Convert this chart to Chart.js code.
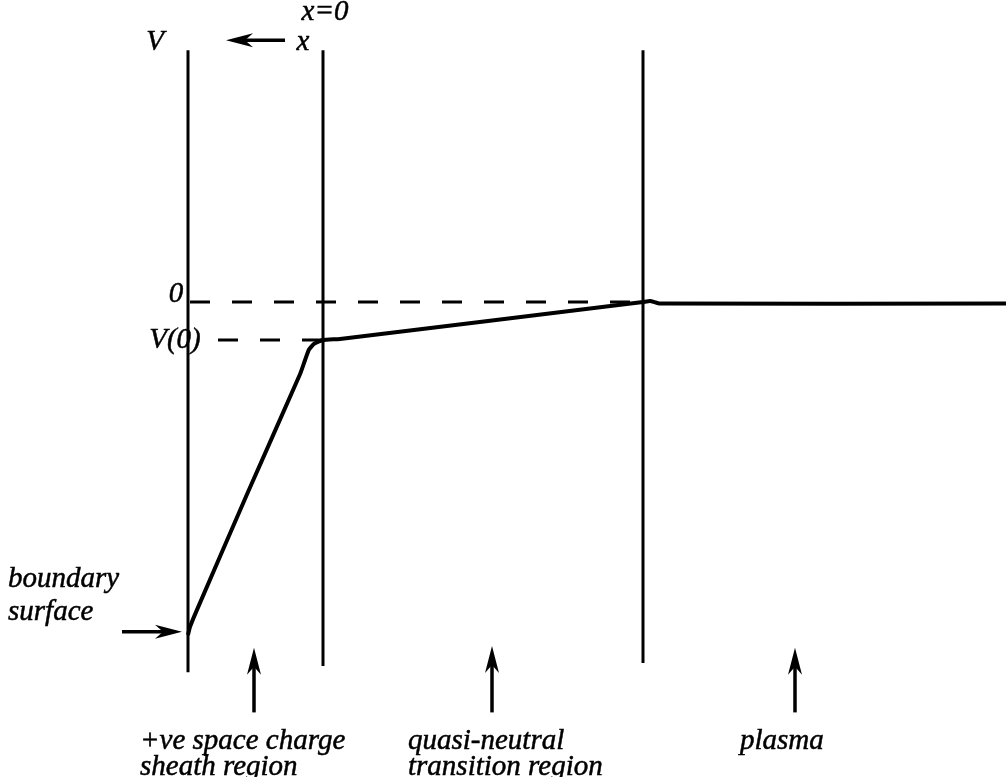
<!DOCTYPE html>
<html lang="en">
<head>
<meta charset="UTF-8">
<title>Sheath potential</title>
<script src="https://cdn.jsdelivr.net/npm/chart.js@4.4.4/dist/chart.umd.min.js"></script>
<style>
  html, body { margin: 0; padding: 0; background: #fff; }
  #wrap { width: 1006px; height: 777px; position: relative; }
</style>
</head>
<body>
<div id="wrap"><canvas id="chart"></canvas></div>
<script>
// s = distance from the wall (arbitrary units), V = potential (V(0) = -1)
const WALL = 0;
const SHEATH_EDGE = 135;
const PRESHEATH_EDGE = 455;

// potential profile V(s)
const profileS = [0, 2, 8, 60, 112, 117, 121, 126, 135, 152, 300, 455, 462, 472, 818];
const profileV = [-8.76, -8.55, -8.16, -5.0, -1.9, -1.53, -1.25, -1.1, -1.0, -0.97, -0.5, 0, 0.03, -0.04, -0.04];

// vertical region boundaries: [position, top V, bottom V]
const boundaryS = [WALL, SHEATH_EDGE, PRESHEATH_EDGE];
const boundaryTop = [6.63, 6.63, 6.63];
const boundaryBottom = [-9.74, -9.58, -9.5];

// dashed reference levels: V=0 and V(0)
const refLevels = [0, -1];
const refStart = [2, 30];
const refEnd = [PRESHEATH_EDGE, SHEATH_EDGE];

// text labels placed in data coordinates
const labels = [
  { text: 'V', s: -33, v: 6.84, align: 'center' },
  { text: 'x=0', s: 137, v: 7.63, align: 'center' },
  { text: 'x', s: 115, v: 6.84, align: 'center' },
  { text: '0', s: -12, v: 0.2, align: 'center' },
  { text: 'V(0)', s: -13, v: -1.0, align: 'center' },
  { text: 'boundary', s: -180, v: -7.3, align: 'left' },
  { text: 'surface', s: -180, v: -8.16, align: 'left' },
  { text: '+ve space charge', s: -48, v: -11.55, align: 'left' },
  { text: 'sheath region', s: -48, v: -12.25, align: 'left' },
  { text: 'quasi-neutral', s: 220, v: -11.55, align: 'left' },
  { text: 'transition region', s: 220, v: -12.25, align: 'left' },
  { text: 'plasma', s: 552, v: -11.55, align: 'left' },
];

// arrows: from (s0,v0) to tip (s1,v1)
const arrows = [
  { s0: 97, v0: 6.89, s1: 38, v1: 6.89 },
  { s0: -66, v0: -8.68, s1: -6, v1: -8.68 },
  { s0: 66, v0: -10.8, s1: 66, v1: -9.1 },
  { s0: 304, v0: -10.8, s1: 304, v1: -9.05 },
  { s0: 607, v0: -10.8, s1: 607, v1: -9.1 },
];

const INK = '#000';
const LABEL_FONT = 'italic 29px "Liberation Serif"';
const datasets = [];

datasets.push({
  data: profileS.map((s, i) => ({ x: s, y: profileV[i] })),
  borderColor: INK, borderWidth: 4, tension: 0.15,
});
boundaryS.forEach((s, i) => {
  datasets.push({
    data: [{ x: s, y: boundaryTop[i] }, { x: s, y: boundaryBottom[i] }],
    borderColor: INK, borderWidth: 3,
  });
});
refLevels.forEach((v, i) => {
  datasets.push({
    data: [{ x: refStart[i], y: v }, { x: refEnd[i], y: v }],
    borderColor: INK, borderWidth: 3, borderDash: [20, 22],
  });
});

const annotate = {
  id: 'annotate',
  afterDatasetsDraw(chart) {
    const { ctx, scales: { x, y } } = chart;
    ctx.save();
    ctx.fillStyle = INK;
    ctx.strokeStyle = INK;
    ctx.font = LABEL_FONT + ', "Liberation Serif", serif';
    ctx.textBaseline = 'middle';
    ctx.lineWidth = 0.5;
    labels.forEach((l) => {
      ctx.textAlign = l.align;
      const px = x.getPixelForValue(l.s), py = y.getPixelForValue(l.v);
      ctx.fillText(l.text, px, py);
      ctx.strokeText(l.text, px, py);
    });
    arrows.forEach((a) => {
      const x0 = x.getPixelForValue(a.s0), y0 = y.getPixelForValue(a.v0);
      const x1 = x.getPixelForValue(a.s1), y1 = y.getPixelForValue(a.v1);
      const ang = Math.atan2(y1 - y0, x1 - x0);
      const cos = Math.cos(ang), sin = Math.sin(ang);
      const len = 27, half = 7, notch = 8;
      const bx = x1 - len * cos, by = y1 - len * sin;
      ctx.lineWidth = 3.5;
      ctx.beginPath();
      ctx.moveTo(x0, y0);
      ctx.lineTo(bx + notch * cos, by + notch * sin);
      ctx.stroke();
      ctx.beginPath();
      ctx.moveTo(x1, y1);
      ctx.lineTo(bx - half * sin, by + half * cos);
      ctx.lineTo(bx + notch * cos, by + notch * sin);
      ctx.lineTo(bx + half * sin, by - half * cos);
      ctx.closePath();
      ctx.fill();
    });
    ctx.restore();
  },
};

function draw() {
  new Chart(document.getElementById('chart'), {
    type: 'line',
    data: { datasets },
    options: {
      responsive: true,
      maintainAspectRatio: false,
      animation: false,
      layout: { padding: 0 },
      elements: { point: { radius: 0 }, line: { borderCapStyle: 'butt', fill: false } },
      plugins: { legend: { display: false }, tooltip: { enabled: false } },
      scales: {
        x: { type: 'linear', min: -188, max: 818, display: false },
        y: { type: 'linear', min: -12.5, max: 7.95, display: false },
      },
    },
    plugins: [annotate],
  });
}

// make sure the italic serif face is ready before the canvas text is drawn
document.fonts.load(LABEL_FONT, 'boundary').then(draw, draw);
</script>
</body>
</html>
